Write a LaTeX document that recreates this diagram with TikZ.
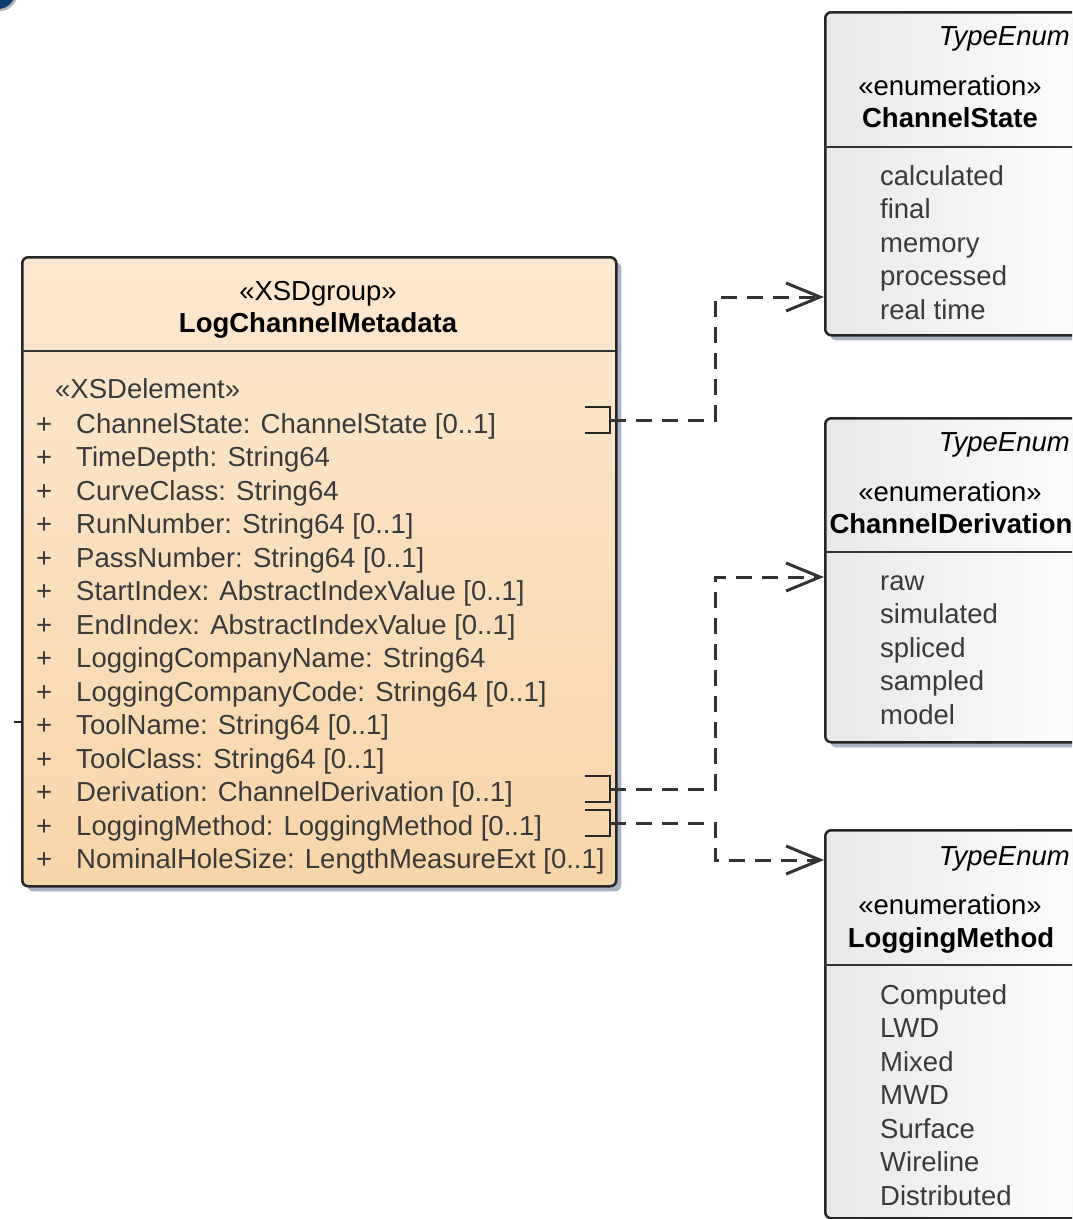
\documentclass[tikz,border=0pt]{standalone}
\usepackage{fontspec}
\setmainfont{Liberation Sans}
\usetikzlibrary{arrows.meta,shadows}
\newcommand{\umlsize}{\fontsize{27.5}{33.5}\selectfont}
\definecolor{umltext}{HTML}{3A3A3A}
\definecolor{groupfill}{HTML}{FCE8D0}
\definecolor{groupfilldark}{HTML}{F7D5AA}
\definecolor{shadowblue}{HTML}{A3ABBF}
\definecolor{logoblue}{HTML}{0E3B72}
\tikzset{
    group-box/.style = {draw=black!85, line width=2.5pt, rectangle, rounded corners=6pt, top color=groupfill, bottom color=groupfilldark, anchor=north west, drop shadow={shadow xshift=5pt, shadow yshift=-5pt, fill=shadowblue, opacity=.9}},
    enum-box/.style = {draw=black!85, line width=2.5pt, rectangle, rounded corners=6pt, left color=black!9, right color=white, anchor=north west, drop shadow={shadow xshift=5pt, shadow yshift=-5pt, fill=shadowblue, opacity=.9}},
    stereo/.style = {font=\umlsize, text=black, inner sep=0pt, anchor=base},
    box-title/.style = {font=\umlsize\bfseries, text=black, inner sep=0pt, anchor=base},
    type-tag/.style = {font=\umlsize\itshape, text=black, inner sep=0pt, anchor=base east},
    attr-list/.style = {font=\umlsize, text=umltext, inner sep=0pt, anchor=base west},
    divider/.style = {draw=black!80, line width=2.5pt},
    link-end/.style = {draw=black!85, line width=2.5pt},
    dep-link/.style = {draw=black!80, line width=3pt, dash pattern=on 16pt off 10pt, -{Straight Barb[length=34pt, width=28pt, line width=3pt]}},
}

\begin{document}
\begin{tikzpicture}[x=1pt, y=-1pt]
\useasboundingbox (0,0) rectangle (1072,1219);
\clip (0,0) rectangle (1072,1219);
\fill[white] (0,0) rectangle (1072,1219);

% corner badge, cut by the frame
\fill[black!30] (0,-6) circle (17);
\fill[logoblue] (-2,-8) circle (17);

% group
\node[group-box, minimum width=594pt, minimum height=629pt] (meta) at (21,256) {};
\node[stereo] (metaStereo) at (318,300) {«XSDgroup»};
\node[box-title] (metaName) at (318,332) {LogChannelMetadata};
\draw[divider] (21,351) -- (615,351);
\node[attr-list] (metaKind) at (55,398) {«XSDelement»};
\node[attr-list] (metaAttrs) at (36,433) {\begin{tabular}[t]{@{}l@{\hspace{24pt}}l@{}}
+ & ChannelState: ChannelState [0..1]\\
+ & TimeDepth: String64\\
+ & CurveClass: String64\\
+ & RunNumber: String64 [0..1]\\
+ & PassNumber: String64 [0..1]\\
+ & StartIndex: AbstractIndexValue [0..1]\\
+ & EndIndex: AbstractIndexValue [0..1]\\
+ & LoggingCompanyName: String64\\
+ & LoggingCompanyCode: String64 [0..1]\\
+ & ToolName: String64 [0..1]\\
+ & ToolClass: String64 [0..1]\\
+ & Derivation: ChannelDerivation [0..1]\\
+ & LoggingMethod: LoggingMethod [0..1]\\
+ & NominalHoleSize: LengthMeasureExt [0..1]
\end{tabular}};

% enumerations
\node[enum-box, minimum width=280pt, minimum height=323pt] (state) at (824,11) {};
\node[type-tag] (stateTag) at (1070,45) {TypeEnum};
\node[stereo] (stateStereo) at (950,95) {«enumeration»};
\node[box-title] (stateName) at (950,127) {ChannelState};
\draw[divider] (824,147) -- (1104,147);
\node[attr-list] (stateItems) at (880,185) {\begin{tabular}[t]{@{}l@{}}
calculated\\ final\\ memory\\ processed\\ real time
\end{tabular}};

\node[enum-box, minimum width=280pt, minimum height=324pt] (deriv) at (824,417) {};
\node[type-tag] (derivTag) at (1070,451) {TypeEnum};
\node[stereo] (derivStereo) at (950,501) {«enumeration»};
\node[box-title] (derivName) at (951,533) {ChannelDerivation};
\draw[divider] (824,552) -- (1104,552);
\node[attr-list] (derivItems) at (880,590) {\begin{tabular}[t]{@{}l@{}}
raw\\ simulated\\ spliced\\ sampled\\ model
\end{tabular}};

\node[enum-box, minimum width=280pt, minimum height=388pt] (method) at (824,829) {};
\node[type-tag] (methodTag) at (1070,865) {TypeEnum};
\node[stereo] (methodStereo) at (950,914) {«enumeration»};
\node[box-title] (methodName) at (951,947) {LoggingMethod};
\draw[divider] (824,965) -- (1104,965);
\node[attr-list] (methodItems) at (880,1004) {\begin{tabular}[t]{@{}l@{}}
Computed\\ LWD\\ Mixed\\ MWD\\ Surface\\ Wireline\\ Distributed
\end{tabular}};

% attribute ends
\draw[link-end] (585,407) -- (610,407) -- (610,433) -- (585,433);
\draw[link-end] (585,776) -- (610,776) -- (610,802) -- (585,802);
\draw[link-end] (585,810) -- (610,810) -- (610,836) -- (585,836);

\coordinate (stateSrc) at (610,420);
\coordinate (stateDst) at (824,297);
\coordinate (derivSrc) at (610,789);
\coordinate (derivDst) at (824,577);
\coordinate (methodSrc) at (610,823);
\coordinate (methodDst) at (824,860);
\coordinate (leftStub) at (14,722);

\draw[dep-link] (stateSrc) -- ++(105,0) |- (stateDst);
\draw[dep-link] (derivSrc) -- ++(105,0) |- (derivDst);
\draw[dep-link] (methodSrc) -- ++(105,0) |- (methodDst);
\draw[link-end] (leftStub) -- (21,722);
\end{tikzpicture}
\end{document}
